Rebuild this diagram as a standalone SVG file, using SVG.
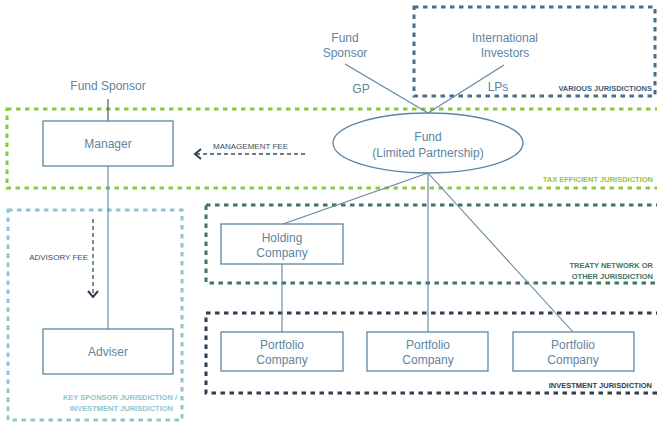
<svg xmlns="http://www.w3.org/2000/svg" width="657" height="424" viewBox="0 0 657 424">
<style>
text{font-family:"Liberation Sans",Arial,sans-serif}
.t{font-size:12px;fill:#6184a0;text-anchor:middle}
.s{font-size:7.5px;font-weight:bold;text-anchor:end}
.box{fill:#fff;stroke:#5d86a3;stroke-width:1.3}
.ln{stroke:#5d86a3;stroke-width:1.1;fill:none}
.fee{font-size:8px;fill:#3a4d60}
.zone{fill:none;stroke-width:3;stroke-dasharray:4.5 4.5}
</style>
<g id="zones">
<rect class="zone" x="414" y="7" width="241" height="89" stroke="#4a6d88"/>
<rect class="zone" x="7" y="109" width="660" height="79" stroke="#8dc63f"/>
<rect class="zone" x="8" y="210" width="174" height="210" stroke="#8ec5cf"/>
<rect class="zone" x="206" y="205" width="460" height="78" stroke="#3d7563"/>
<rect class="zone" x="206" y="313" width="460" height="80" stroke="#2b3e52"/>
<text class="s" x="652" y="91" fill="#3f5d78">VARIOUS JURISDICTIONS</text>
<text class="s" x="653" y="182" fill="#8dc63f">TAX EFFICIENT JURISDICTION</text>
<text class="s" x="653" y="268" fill="#3d7563">TREATY NETWORK OR</text>
<text class="s" x="653" y="279" fill="#3d7563">OTHER JURISDICTION</text>
<text class="s" x="652" y="388" fill="#2b3e52">INVESTMENT JURISDICTION</text>
<text class="s" x="177" y="400" fill="#8ec5cf">KEY SPONSOR  JURISDICTION /</text>
<text class="s" x="173" y="411" fill="#8ec5cf">INVESTMENT JURISDICTION</text>
</g>
<g id="connectors">
<line x1="108" y1="99" x2="108" y2="121" stroke="#4a4a4a" stroke-width="1.1"/>
<line class="ln" x1="108" y1="166" x2="108" y2="329"/>
<line class="ln" x1="345" y1="64" x2="428" y2="113"/>
<line class="ln" x1="504" y1="65" x2="428" y2="113"/>
<line class="ln" x1="428" y1="173" x2="283" y2="224"/>
<line class="ln" x1="428" y1="173" x2="428" y2="332"/>
<line class="ln" x1="428" y1="173" x2="573" y2="332"/>
<line class="ln" x1="282" y1="264" x2="282" y2="332"/>
<line x1="305" y1="154" x2="196" y2="154" stroke="#3a4d60" stroke-width="1.3" stroke-dasharray="4 3"/>
<polyline points="201,149 195,154 201,159" fill="none" stroke="#2e3f50" stroke-width="2"/>
<line x1="93" y1="219" x2="93" y2="293" stroke="#3a4d60" stroke-width="1.3" stroke-dasharray="4 3"/>
<polyline points="88,291 93,297 98,291" fill="none" stroke="#2e3f50" stroke-width="2"/>
<text class="fee" x="213" y="149">MANAGEMENT FEE</text>
<text class="fee" x="88" y="260" text-anchor="end">ADVISORY FEE</text>
<text class="t" x="361" y="93">GP</text>
<text class="t" x="498" y="91">LPs</text>
</g>
<g id="fund-sponsor-top"><text class="t" x="345" y="42">Fund</text><text class="t" x="345" y="57">Sponsor</text></g>
<g id="international-investors"><text class="t" x="505" y="42">International</text><text class="t" x="505" y="57">Investors</text></g>
<g id="fund-sponsor-left"><text class="t" x="108" y="90">Fund Sponsor</text></g>
<g id="manager"><rect class="box" x="43" y="121" width="130" height="45"/><text class="t" x="108" y="148">Manager</text></g>
<g id="fund"><ellipse cx="428" cy="143" rx="95" ry="30" fill="#fff" stroke="#5d86a3" stroke-width="1.3"/><text class="t" x="428" y="141">Fund</text><text class="t" x="428" y="157">(Limited Partnership)</text></g>
<g id="holding"><rect class="box" x="221" y="224" width="122" height="40"/><text class="t" x="282" y="242">Holding</text><text class="t" x="282" y="257">Company</text></g>
<g id="adviser"><rect class="box" x="43" y="329" width="130" height="45"/><text class="t" x="108" y="356">Adviser</text></g>
<g id="portfolio1"><rect class="box" x="221" y="332" width="122" height="39"/><text class="t" x="282" y="349">Portfolio</text><text class="t" x="282" y="364">Company</text></g>
<g id="portfolio2"><rect class="box" x="367" y="332" width="121" height="39"/><text class="t" x="428" y="349">Portfolio</text><text class="t" x="428" y="364">Company</text></g>
<g id="portfolio3"><rect class="box" x="513" y="332" width="121" height="39"/><text class="t" x="573" y="349">Portfolio</text><text class="t" x="573" y="364">Company</text></g>
</svg>
